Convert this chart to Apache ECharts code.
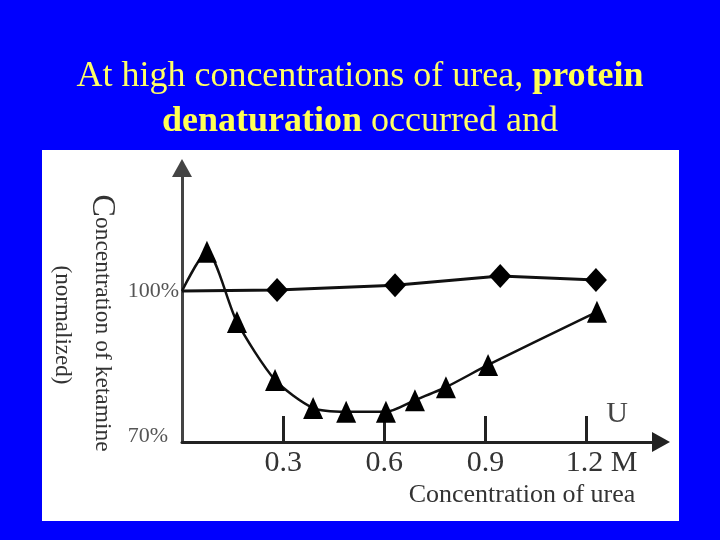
<!DOCTYPE html>
<html>
<head>
<meta charset="utf-8">
<script src="https://cdn.jsdelivr.net/npm/echarts@6/dist/echarts.min.js"></script>
<style>html,body{margin:0;padding:0;background:#0000FE;}#c{width:720px;height:540px;}</style>
</head>
<body>
<div id="c"></div>
<script>
// Triangle series (urea denatured) — x in M, y in % (normalized ketamine)
const ureaTri = [0, 0.074, 0.163, 0.276, 0.389, 0.487, 0.605, 0.691, 0.783, 0.908, 1.231];
const ketTri = [100, 108.1, 93.6, 81.6, 75.8, 75.0, 75.0, 77.4, 80.1, 84.7, 95.7];
// Diamond series
const ureaDia = [0, 0.282, 0.632, 0.944, 1.228];
const ketDia = [100, 100.2, 101.2, 103.1, 102.3];
// Tick labels
const xTicks = [0.3, 0.6, 0.9, 1.2];
const yTicks = [70, 100];

function toData(xs, ys) {
  return xs.map(function (x, i) {
    const item = { value: [x, ys[i]] };
    if (i === 0) item.symbol = 'none';
    return item;
  });
}

const chart = echarts.init(document.getElementById('c'));
const serif = '"Liberation Serif", "Times New Roman", serif';
chart.setOption({
  backgroundColor: '#0000FE',
  animation: false,
  title: {
    text: 'At high concentrations of urea, {b|protein}\n{b|denaturation} occurred and',
    left: 'center',
    top: 49,
    textStyle: {
      fontFamily: serif, fontSize: 36, color: '#FFFF66', fontWeight: 'normal', lineHeight: 45,
      rich: { b: { fontFamily: serif, fontSize: 36, color: '#FFFF55', fontWeight: 'bold', lineHeight: 45 } }
    }
  },
  graphic: [
    { type: 'rect', z: -10, shape: { x: 42, y: 150, width: 637, height: 371 }, style: { fill: '#FFFFFF' } },
    { type: 'text', x: 102, y: 323, rotation: -Math.PI / 2,
      style: { text: '{c|C}oncentration of ketamine', align: 'center', verticalAlign: 'middle',
        font: '23.5px ' + serif, fill: '#333',
        rich: { c: { fontSize: 34, fontFamily: serif, fill: '#333' } } } },
    { type: 'text', x: 62, y: 325, rotation: -Math.PI / 2,
      style: { text: '(normalized)', align: 'center', verticalAlign: 'middle', font: '23px ' + serif, fill: '#333' } },
    { type: 'text', x: 522, y: 495,
      style: { text: 'Concentration of urea', align: 'center', verticalAlign: 'middle', font: '26px ' + serif, fill: '#333' } },
    { type: 'text', x: 617, y: 414,
      style: { text: 'U', align: 'center', verticalAlign: 'middle', font: '30px ' + serif, fill: '#444' } }
  ],
  grid: { left: 182, right: 59, top: 168, bottom: 98, containLabel: false },
  xAxis: {
    type: 'value', min: 0, max: 1.421,
    splitLine: { show: false },
    axisLine: { show: true, symbol: ['none', 'triangle'], symbolSize: [20, 18], lineStyle: { color: '#222', width: 3 } },
    axisTick: { show: true, customValues: xTicks, inside: true, length: 26, lineStyle: { color: '#222', width: 3 } },
    axisLabel: {
      customValues: xTicks, margin: 6, fontFamily: serif, fontSize: 30, color: '#333',
      formatter: function (v) { return Math.abs(v - 1.2) < 1e-6 ? '{m|1.2 M}' : v.toFixed(1); },
      rich: { m: { fontFamily: serif, fontSize: 30, color: '#333', padding: [0, 0, 0, 30] } }
    }
  },
  yAxis: {
    type: 'value', min: 68.76, max: 125.45,
    splitLine: { show: false },
    axisLine: { show: true, symbol: ['none', 'triangle'], symbolSize: [20, 18], lineStyle: { color: '#444', width: 3 } },
    axisTick: { show: false },
    axisLabel: {
      customValues: yTicks, margin: 3, fontFamily: serif, fontSize: 22, color: '#555',
      formatter: function (v) { return v === 70 ? '{s|70%}' : v + '%'; },
      rich: { s: { fontFamily: serif, fontSize: 22, color: '#555', padding: [0, 11, 0, 0] } }
    }
  },
  series: [
    {
      type: 'line', data: toData(ureaDia, ketDia), symbol: 'diamond', symbolSize: [22, 24],
      itemStyle: { color: '#000' }, lineStyle: { color: '#111', width: 3 }, z: 3
    },
    {
      type: 'line', data: toData(ureaTri, ketTri), symbol: 'triangle', symbolSize: [20, 22], smooth: 0.25,
      itemStyle: { color: '#000' }, lineStyle: { color: '#111', width: 2.5 }, z: 4
    }
  ]
});
</script>
</body>
</html>
